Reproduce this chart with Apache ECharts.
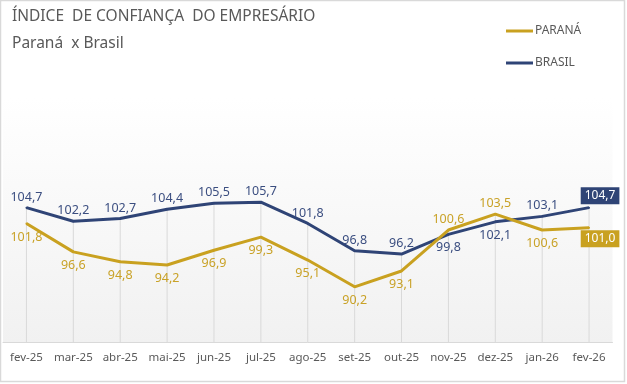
<!DOCTYPE html>
<html><head><meta charset="utf-8">
<script src="https://cdn.jsdelivr.net/npm/echarts@6/dist/echarts.min.js"></script>
<style>html,body{margin:0;padding:0;background:#fff}#c{width:627px;height:384px}</style>
</head><body><div id="c"></div>
<script>
const categories = ['fev-25','mar-25','abr-25','mai-25','jun-25','jul-25','ago-25','set-25','out-25','nov-25','dez-25','jan-26','fev-26'];
const parana = [101.8, 96.6, 94.8, 94.2, 96.9, 99.3, 95.1, 90.2, 93.1, 100.6, 103.5, 100.6, 101.0];
const brasil = [104.7, 102.2, 102.7, 104.4, 105.5, 105.7, 101.8, 96.8, 96.2, 99.8, 102.1, 103.1, 104.7];
// label placement: true = above point
const paranaAbove = [false,false,false,false,false,false,false,false,false,true,true,false,false];
const brasilAbove = [true,true,true,true,true,true,true,true,true,false,false,true,true];

const GOLD = '#C9A120', NAVY = '#2F4476', GOLD_T = '#C9A227', NAVY_T = '#3B4E80';
const fmt = v => v.toFixed(1).replace('.', ',');
const dropLines = categories.map((c, i) => Math.max(parana[i], brasil[i]));

function mkData(vals, above, color, txtColor, boxDy) {
  return vals.map((v, i) => {
    const last = i === vals.length - 1;
    if (last) {
      return { value: v, label: { show: true, position: 'inside', offset: [11, boxDy],
        backgroundColor: color, color: '#fff', padding: [3, 4, 2, 4], fontSize: 12 } };
    }
    return { value: v, label: { show: true, position: above[i] ? 'top' : 'bottom',
      distance: above[i] ? 3 : 6, color: txtColor } };
  });
}

const chart = echarts.init(document.getElementById('c'));
chart.setOption({
  animation: false,
  backgroundColor: '#ffffff',
  textStyle: { fontFamily: 'Noto Sans' },
  graphic: [
    { type: 'rect', shape: { x: 0.5, y: 0.5, width: 624, height: 381 }, style: { fill: 'none', stroke: '#d9d9d9', lineWidth: 1.5 }, silent: true, z: -1 },
    { type: 'text', left: 12, top: 9, style: { text: 'ÍNDICE  DE CONFIANÇA  DO EMPRESÁRIO', fill: '#595959', font: '15.5px "Noto Sans"' } },
    { type: 'text', left: 12, top: 36, style: { text: 'Paraná  x Brasil', fill: '#595959', font: '15.5px "Noto Sans"' } }
  ],
  legend: {
    orient: 'vertical', left: 506, top: 25, padding: 0, itemWidth: 27, itemHeight: 3, itemGap: 20,
    icon: 'rect', data: ['PARANÁ', 'BRASIL'],
    textStyle: { color: '#595959', fontSize: 12, padding: [0, 0, 0, -3] }
  },
  grid: {
    left: 3, right: 14.5, top: 96.8, bottom: 41.5, show: true, borderWidth: 0,
    backgroundColor: new echarts.graphic.LinearGradient(0, 0, 0, 1, [
      { offset: 0, color: '#ffffff' }, { offset: 1, color: '#f1f1f1' }])
  },
  xAxis: {
    type: 'category', data: categories, boundaryGap: true,
    axisLine: { lineStyle: { color: '#d9d9d9', width: 1 } },
    axisTick: { show: false },
    axisLabel: { color: '#595959', fontSize: 11.5, margin: 9, interval: 0 },
    splitLine: { show: false }
  },
  yAxis: { type: 'value', min: 80, max: 125, show: false, splitLine: { show: false } },
  series: [
    { name: 'drop', type: 'bar', data: dropLines, barWidth: 1, silent: true,
      itemStyle: { color: '#d9d9d9' }, z: 1, label: { show: false } },
    { name: 'BRASIL', type: 'line', data: mkData(brasil, brasilAbove, NAVY, NAVY_T, -12),
      color: NAVY, lineStyle: { width: 3, color: NAVY }, symbol: 'circle', symbolSize: 2,
      itemStyle: { color: NAVY }, label: { formatter: p => fmt(p.value), fontSize: 12.5 }, z: 3 },
    { name: 'PARANÁ', type: 'line', data: mkData(parana, paranaAbove, GOLD, GOLD_T, 11),
      color: GOLD, lineStyle: { width: 3, color: GOLD }, symbol: 'circle', symbolSize: 2,
      itemStyle: { color: GOLD }, label: { formatter: p => fmt(p.value), fontSize: 12.5 }, z: 4 }
  ]
});
</script></body></html>
